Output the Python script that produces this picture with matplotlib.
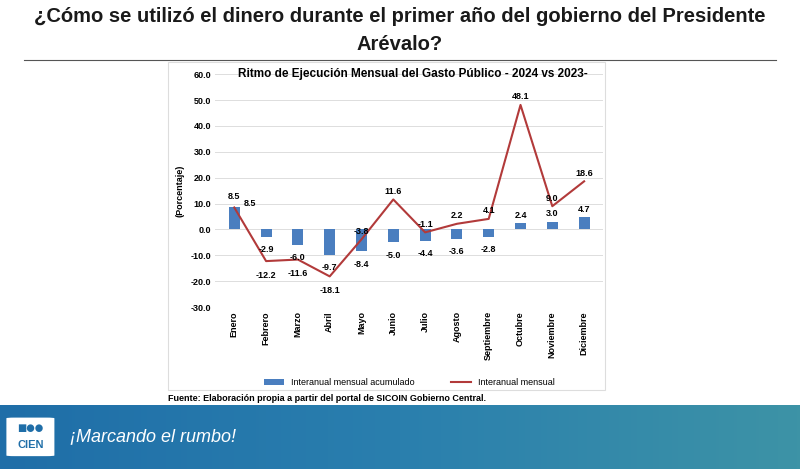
import numpy as np
import matplotlib
matplotlib.use("Agg")
import matplotlib.pyplot as plt
from matplotlib.patches import Rectangle, FancyBboxPatch

plt.rcParams["font.family"] = "Liberation Sans"

months = ["Enero", "Febrero", "Marzo", "Abril", "Mayo", "Junio", "Julio",
          "Agosto", "Septiembre", "Octubre", "Noviembre", "Diciembre"]
acumulado = [8.5, -2.9, -6.0, -9.7, -8.4, -5.0, -4.4, -3.6, -2.8, 2.4, 3.0, 4.7]
mensual = [8.5, -12.2, -11.6, -18.1, -3.8, 11.6, -1.1, 2.2, 4.1, 48.1, 9.0, 18.6]
yticks = np.arange(-30, 61, 10)

BLUE = "#4a7ebf"
RED = "#b23a3a"

fig = plt.figure(figsize=(8, 4.69), dpi=100)
fig.patch.set_facecolor("white")

# title and rule
fig.text(0.5, 0.985, "¿Cómo se utilizó el dinero durante el primer año del gobierno del Presidente",
         ha="center", va="top", fontsize=14.5, fontweight="bold", color="#1a1a1a")
fig.text(0.5, 0.925, "Arévalo?", ha="center", va="top", fontsize=14.5,
         fontweight="bold", color="#1a1a1a")
fig.add_artist(plt.Line2D([0.03, 0.97], [0.872, 0.872], color="#555555", lw=0.8))

# chart frame
frame = Rectangle((0.21, 0.168), 0.546, 0.7, transform=fig.transFigure,
                  facecolor="white", edgecolor="#dddddd", lw=0.8, zorder=-1)
fig.patches.append(frame)

ax = fig.add_axes([0.269, 0.345, 0.485, 0.497])
ax.patch.set_alpha(0)
x = np.arange(len(months))
bars = ax.bar(x, acumulado, width=0.35, color=BLUE, zorder=2)
line, = ax.plot(x, mensual, color=RED, lw=1.5, zorder=3)
ax.set_xlim(-0.6, len(months) - 0.4)
ax.set_ylim(-30, 60)
ax.set_yticks(yticks)
ax.set_yticklabels([f"{v:.1f}" for v in yticks], fontsize=6.5, fontweight="bold")
ax.set_xticks(x)
ax.set_xticklabels(months, rotation=90, fontsize=6.5, fontweight="bold")
ax.tick_params(length=0, pad=3)
ax.grid(axis="y", color="#dddddd", lw=0.7, zorder=0)
for s in ax.spines.values():
    s.set_visible(False)
ax.set_ylabel("(Porcentaje)", fontsize=6.5, fontweight="bold", labelpad=4)
ax.text(0.51, 1.0, "Ritmo de Ejecución Mensual del Gasto Público - 2024 vs 2023-",
        transform=ax.transAxes, ha="center", va="center", fontsize=8.5, fontweight="bold")

for i, v in enumerate(acumulado):
    off = 4 if v > 0 else -11
    if i == 0:
        off = 6
    ax.annotate(f"{v:.1f}", (i, v), xytext=(0, off), textcoords="offset points",
                ha="center", fontsize=6.5, fontweight="bold")
for i, v in enumerate(mensual):
    if i == 0:
        ax.annotate(f"{v:.1f}", (i, v), xytext=(11, 1), textcoords="offset points",
                    ha="center", fontsize=6.5, fontweight="bold")
        continue
    off = -12 if v < -10 else 4
    ax.annotate(f"{v:.1f}", (i, v), xytext=(0, off), textcoords="offset points",
                ha="center", fontsize=6.5, fontweight="bold")

ax.legend([bars, line], ["Interanual mensual acumulado", "Interanual mensual"],
          loc="upper center", bbox_to_anchor=(0.5, -0.27), ncol=2, frameon=False,
          fontsize=6.5, handlelength=2.2, columnspacing=4)

fig.text(0.21, 0.151, "Fuente: Elaboración propia a partir del portal de SICOIN Gobierno Central.",
         fontsize=6.5, fontweight="bold", va="center")

# footer band with gradient
fax = fig.add_axes([0, 0, 1, 0.137])
grad = np.linspace(0, 1, 256).reshape(1, -1)
cmap = matplotlib.colors.LinearSegmentedColormap.from_list("f", ["#1f6ea8", "#2a7fae", "#3d93a6"])
fax.imshow(grad, aspect="auto", cmap=cmap, extent=[0, 1, 0, 1])
fax.set_xlim(0, 1)
fax.set_ylim(0, 1)
fax.axis("off")
fax.add_patch(FancyBboxPatch((0.008, 0.2), 0.06, 0.6, boxstyle="round,pad=0,rounding_size=0.01",
                             facecolor="white", edgecolor="none"))
fax.text(0.038, 0.38, "CIEN", ha="center", va="center", fontsize=8, fontweight="bold", color="#1f6ea8")
fax.text(0.038, 0.64, "■●●", ha="center", va="center", fontsize=7, color="#1f6ea8",
         fontfamily="DejaVu Sans")
fax.text(0.088, 0.5, "¡Marcando el rumbo!", ha="left", va="center", fontsize=13,
         style="italic", color="white")

fig.savefig("out.png", dpi=100)
